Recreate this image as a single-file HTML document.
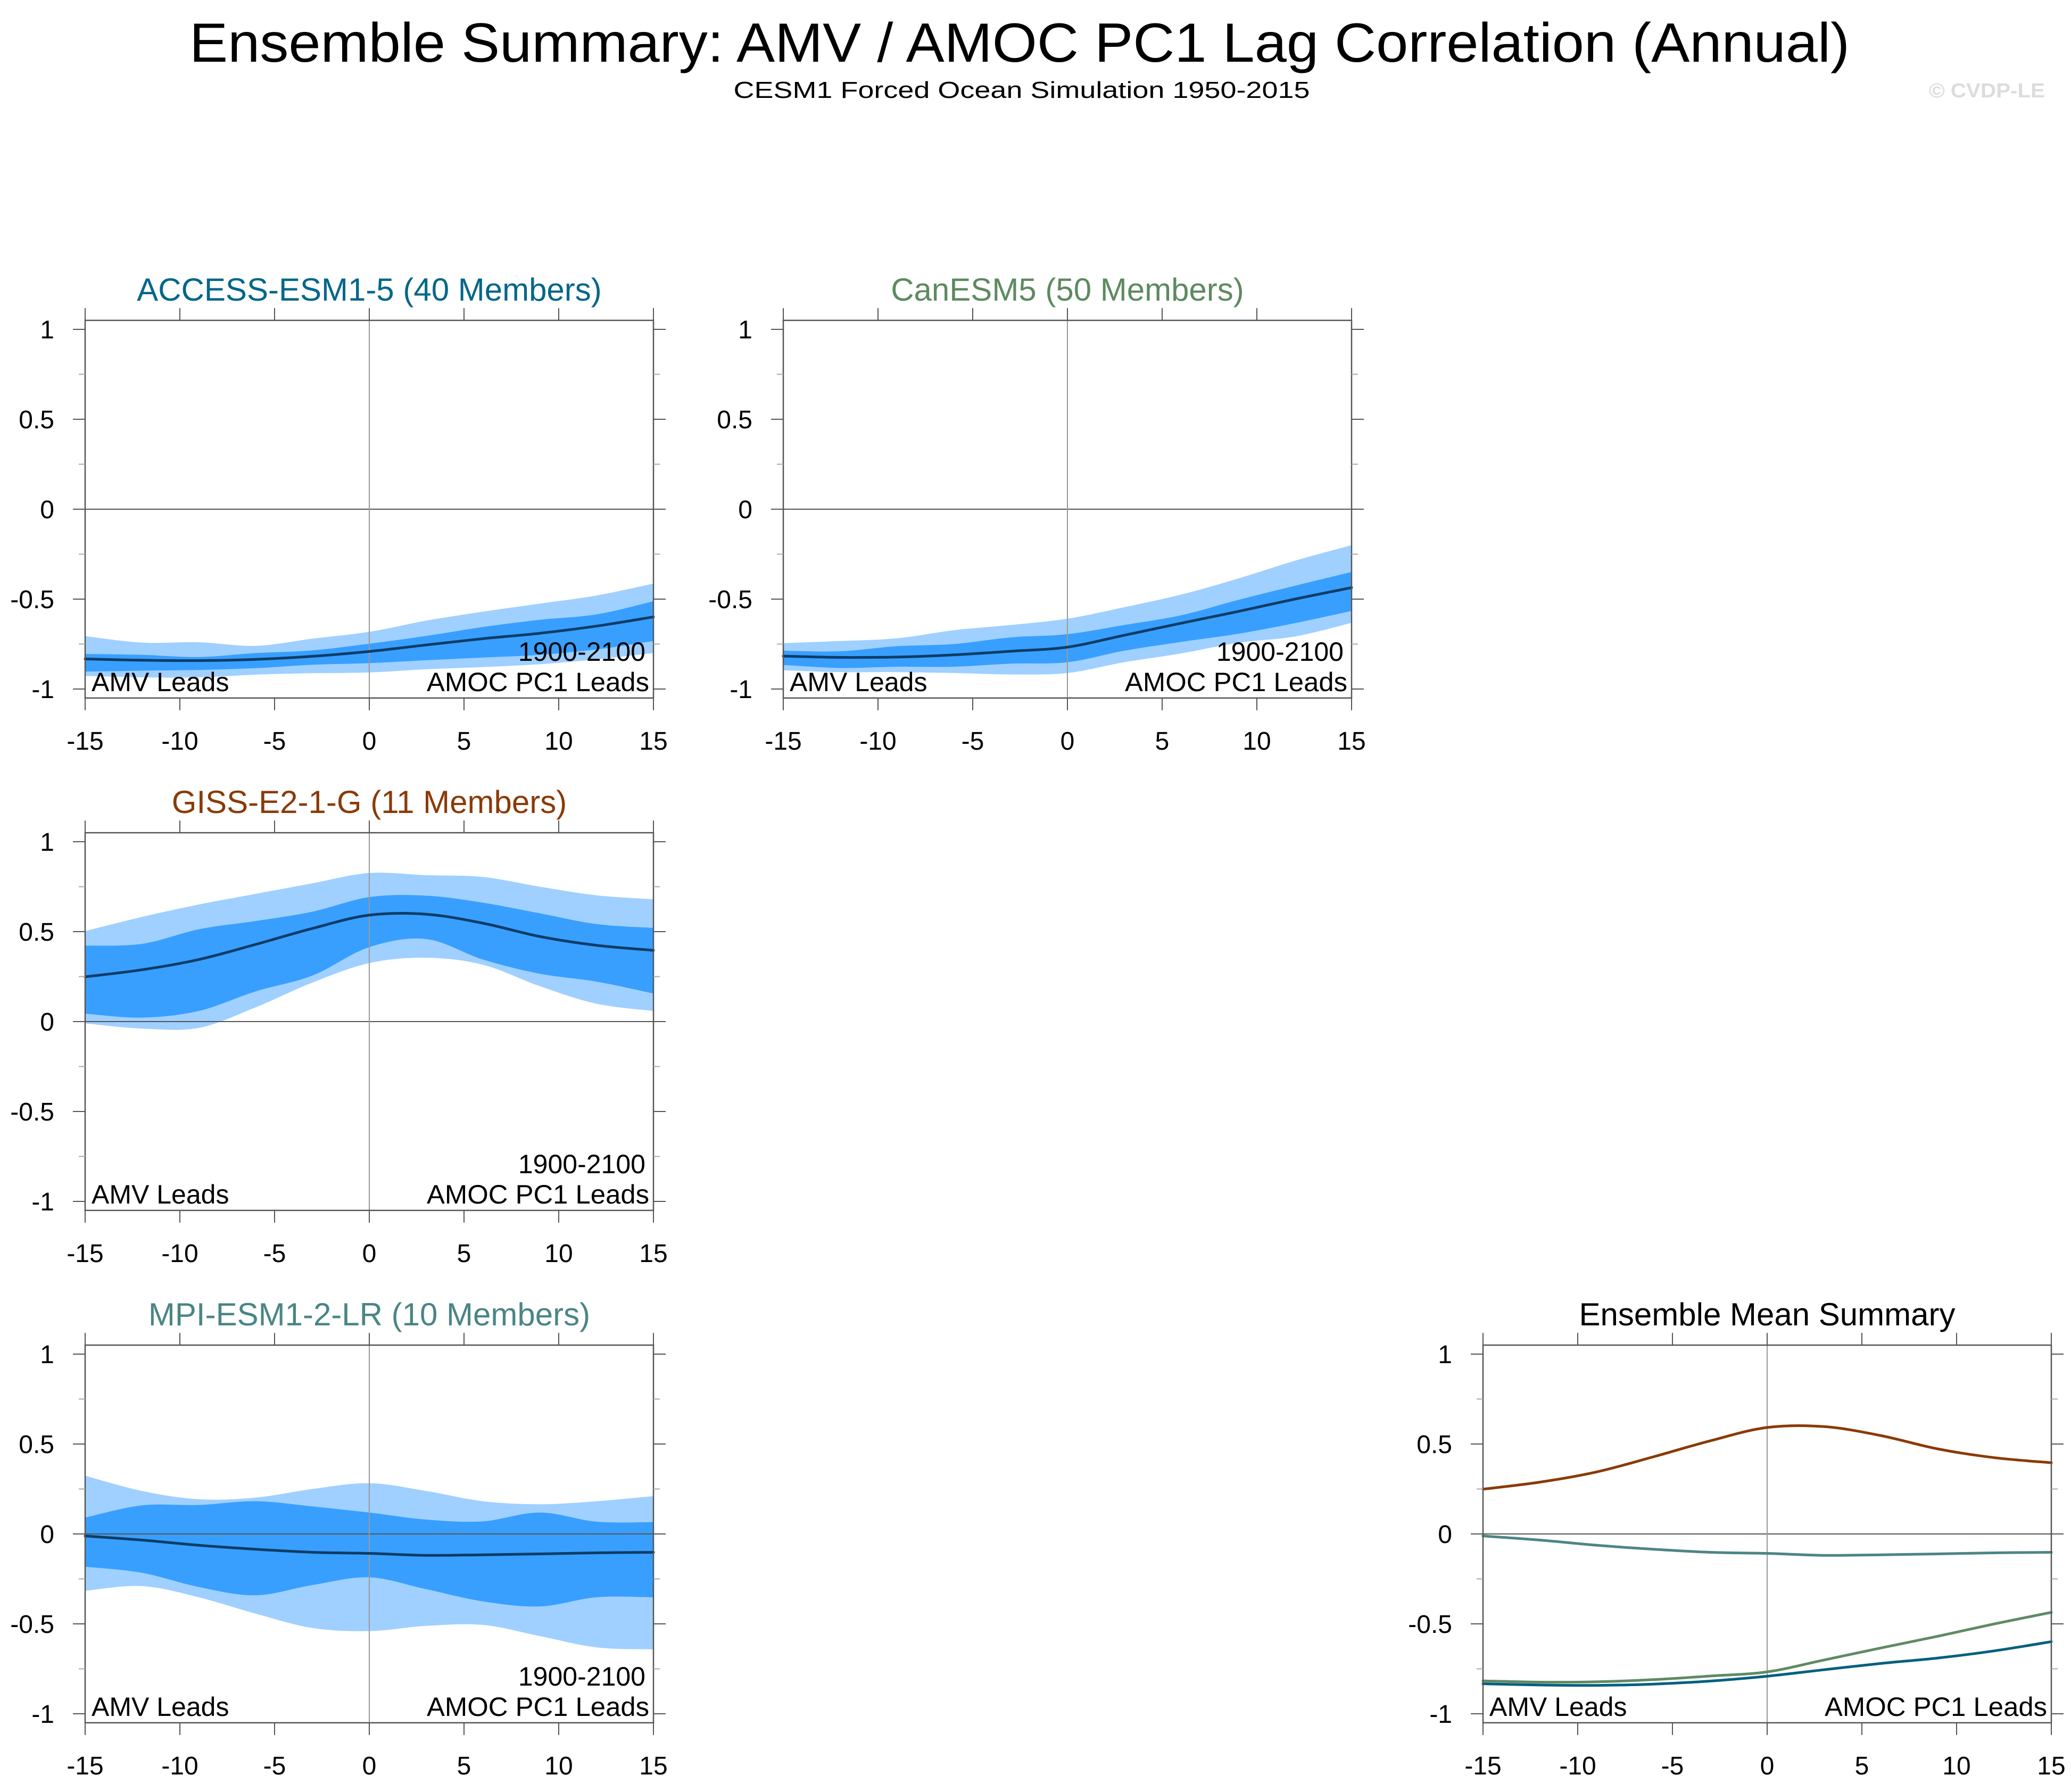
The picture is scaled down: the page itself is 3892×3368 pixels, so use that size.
<!DOCTYPE html>
<html><head><meta charset="utf-8"><style>
html,body{margin:0;padding:0;background:#fff;}
svg{display:block;font-family:"Liberation Sans",Arial,sans-serif;}
</style></head><body>
<svg id="fig" width="3892" height="3368" viewBox="0 0 3892 3368" xmlns="http://www.w3.org/2000/svg">
<rect width="3892" height="3368" fill="#fff"/>
<text x="1916" y="116" font-size="104" text-anchor="middle" textLength="3120" lengthAdjust="spacingAndGlyphs">Ensemble Summary: AMV / AMOC PC1 Lag Correlation (Annual)</text>
<text x="1920" y="184" font-size="44" text-anchor="middle" textLength="1083" lengthAdjust="spacingAndGlyphs">CESM1 Forced Ocean Simulation 1950-2015</text>
<text x="3843" y="183" font-size="38" font-weight="bold" fill="#dcdcdc" text-anchor="end" textLength="218" lengthAdjust="spacingAndGlyphs">© CVDP-LE</text>
</svg>
<script>
const lags = [-15,-12,-9,-6,-3,0,3,6,9,12,15];
const xTicks = [-15,-10,-5,0,5,10,15];
const xTickLabels = ["-15","-10","-5","0","5","10","15"];
const yTicks = [-1,-0.5,0,0.5,1];
const yTickLabels = ["-1","-0.5","0","0.5","1"];
const yMinor = [-0.75,-0.25,0.25,0.75];

const accessMean   = [-0.833,-0.84,-0.842,-0.835,-0.818,-0.791,-0.755,-0.72,-0.69,-0.65,-0.599];
const accessOutHi  = [-0.706,-0.742,-0.74,-0.76,-0.72,-0.682,-0.62,-0.57,-0.525,-0.48,-0.414];
const accessInHi   = [-0.805,-0.81,-0.822,-0.80,-0.785,-0.748,-0.705,-0.655,-0.615,-0.585,-0.512];
const accessInLo   = [-0.903,-0.898,-0.894,-0.884,-0.865,-0.856,-0.84,-0.825,-0.81,-0.78,-0.733];
const accessOutLo  = [-0.927,-0.935,-0.935,-0.92,-0.912,-0.908,-0.89,-0.878,-0.862,-0.835,-0.80];

const canMean  = [-0.817,-0.824,-0.822,-0.81,-0.79,-0.767,-0.701,-0.634,-0.569,-0.5,-0.436];
const canOutHi = [-0.745,-0.733,-0.718,-0.673,-0.644,-0.609,-0.545,-0.475,-0.386,-0.287,-0.2];
const canInHi  = [-0.787,-0.79,-0.762,-0.75,-0.713,-0.695,-0.644,-0.59,-0.505,-0.426,-0.349];
const canInLo  = [-0.866,-0.883,-0.876,-0.876,-0.859,-0.851,-0.787,-0.738,-0.693,-0.634,-0.566];
const canOutLo = [-0.896,-0.906,-0.906,-0.911,-0.919,-0.911,-0.851,-0.802,-0.743,-0.708,-0.632];

const gissMean  = [0.249,0.288,0.345,0.429,0.518,0.592,0.597,0.547,0.473,0.424,0.396];
const gissOutHi = [0.503,0.582,0.651,0.71,0.769,0.826,0.814,0.804,0.75,0.702,0.68];
const gissInHi  = [0.422,0.432,0.513,0.559,0.611,0.692,0.70,0.661,0.602,0.542,0.521];
const gissInLo  = [0.044,0.022,0.059,0.168,0.256,0.414,0.459,0.345,0.266,0.222,0.156];
const gissOutLo = [-0.01,-0.039,-0.035,0.079,0.217,0.325,0.355,0.316,0.197,0.099,0.059];

const mpiMean  = [-0.011,-0.034,-0.063,-0.085,-0.102,-0.108,-0.119,-0.116,-0.111,-0.105,-0.102];
const mpiOutHi = [0.324,0.239,0.193,0.202,0.25,0.282,0.239,0.182,0.165,0.182,0.21];
const mpiInHi  = [0.091,0.159,0.161,0.182,0.153,0.119,0.08,0.07,0.119,0.068,0.066];
const mpiInLo  = [-0.182,-0.216,-0.295,-0.341,-0.284,-0.241,-0.307,-0.375,-0.403,-0.352,-0.352];
const mpiOutLo = [-0.316,-0.29,-0.352,-0.443,-0.523,-0.54,-0.511,-0.506,-0.568,-0.631,-0.642];

const NS = "http://www.w3.org/2000/svg";
const svg = document.getElementById('fig');
function mk(tag, attrs, parent){
  const e = document.createElementNS(NS, tag);
  for (const k in attrs) e.setAttribute(k, attrs[k]);
  (parent||svg).appendChild(e);
  return e;
}
// smooth path through points (Catmull-Rom -> Bezier), continuing existing path if cont
function smooth(pts, cont){
  let d = (cont ? 'L' : 'M') + pts[0][0] + ' ' + pts[0][1];
  for (let i = 0; i < pts.length-1; i++){
    const p0 = pts[Math.max(0,i-1)], p1 = pts[i], p2 = pts[i+1], p3 = pts[Math.min(pts.length-1,i+2)];
    const c1x = p1[0] + (p2[0]-p0[0])/6, c1y = p1[1] + (p2[1]-p0[1])/6;
    const c2x = p2[0] - (p3[0]-p1[0])/6, c2y = p2[1] - (p3[1]-p1[1])/6;
    d += 'C' + c1x + ' ' + c1y + ' ' + c2x + ' ' + c2y + ' ' + p2[0] + ' ' + p2[1];
  }
  return d;
}

function panel(cfg){
  const L = cfg.left, R = cfg.left + 1068;
  const y0 = 957 + 963*cfg.row, py = 338;
  const xs = v => L + (v + 15) / 30 * (R - L);
  const ys = v => y0 - v * py;
  const top = ys(1.05), bot = ys(-1.05);
  const g = mk('g', {});
  
  
  const t = mk('text', {x:(L+R)/2, y:y0-392, 'font-size':60, 'text-anchor':'middle', fill:cfg.titleColor}, g);
  t.textContent = cfg.title;
  
  
  function band(hi, lo, color, nm){
    const up = lags.map((l,i)=>[xs(l), ys(hi[i])]);
    const dn = lags.map((l,i)=>[xs(l), ys(lo[i])]).reverse();
    const d = smooth(up,false) + smooth(dn,true) + 'Z';
    const p = mk('path', {d: d, fill: color}, g);
    
    
  }
  if (cfg.outHi) band(cfg.outHi, cfg.outLo, '#9fd0ff', 'outer-spread-band');
  if (cfg.inHi) band(cfg.inHi, cfg.inLo, '#389fff', 'inner-spread-band');
  const hz = mk('line', {x1:L-23, x2:R+23, y1:ys(0), y2:ys(0), stroke:'#555', 'stroke-width':2}, g);
  
  
  const vz = mk('line', {x1:xs(0), x2:xs(0), y1:top, y2:bot, stroke:'#999', 'stroke-width':2}, g);
  
  
  cfg.lines.forEach(s=>{
    const pts = lags.map((l,i)=>[xs(l), ys(s.v[i])]);
    const p = mk('path', {d:smooth(pts,false), fill:'none', stroke:s.c, 'stroke-width':5, 'stroke-linejoin':'round', 'stroke-linecap':'round'}, g);
    
    
  });
  const fr = mk('rect', {x:L, y:top, width:R-L, height:bot-top, fill:'none', stroke:'#555', 'stroke-width':2.5}, g);
  
  
  xTicks.forEach((v,i)=>{
    const x = xs(v);
    mk('line', {x1:x, x2:x, y1:top, y2:top-23, stroke:'#555', 'stroke-width':2}, g);
    mk('line', {x1:x, x2:x, y1:bot, y2:bot+23, stroke:'#555', 'stroke-width':2}, g);
    const tl = mk('text', {x:x, y:bot+97, 'font-size':48, 'text-anchor':'middle'}, g);
    tl.textContent = xTickLabels[i];
    
    
  });
  yTicks.forEach((v,i)=>{
    const y = ys(v);
    mk('line', {x1:L, x2:L-23, y1:y, y2:y, stroke:'#555', 'stroke-width':2}, g);
    mk('line', {x1:R, x2:R+23, y1:y, y2:y, stroke:'#555', 'stroke-width':2}, g);
    const tl = mk('text', {x:L-58, y:y+17, 'font-size':48, 'text-anchor':'end'}, g);
    tl.textContent = yTickLabels[i];
    
    
  });
  yMinor.forEach(v=>{
    const y = ys(v);
    mk('line', {x1:L, x2:L-12, y1:y, y2:y, stroke:'#aaa', 'stroke-width':2}, g);
    mk('line', {x1:R, x2:R+12, y1:y, y2:y, stroke:'#aaa', 'stroke-width':2}, g);
  });
  const a1 = mk('text', {x:L+12, y:y0+342, 'font-size':50}, g);
  a1.textContent = 'AMV Leads';
  
  
  const a2 = mk('text', {x:R-8, y:y0+342, 'font-size':50, 'text-anchor':'end', textLength:418, lengthAdjust:'spacingAndGlyphs'}, g);
  a2.textContent = 'AMOC PC1 Leads';
  
  
  if (cfg.period){
    const a3 = mk('text', {x:R-15, y:y0+285, 'font-size':50, 'text-anchor':'end'}, g);
    a3.textContent = '1900-2100';
    
    
  }
}

panel({name:'access-esm1-5', title:'ACCESS-ESM1-5 (40 Members)', titleColor:'#00668a', left:160, row:0, period:true,
  outHi:accessOutHi, outLo:accessOutLo, inHi:accessInHi, inLo:accessInLo,
  lines:[{v:accessMean, c:'#0d3c66', n:'ensemble-mean-line'}]});
panel({name:'canesm5', title:'CanESM5 (50 Members)', titleColor:'#5d8a60', left:1472, row:0, period:true,
  outHi:canOutHi, outLo:canOutLo, inHi:canInHi, inLo:canInLo,
  lines:[{v:canMean, c:'#0d3c66', n:'ensemble-mean-line'}]});
panel({name:'giss-e2-1-g', title:'GISS-E2-1-G (11 Members)', titleColor:'#8a3a08', left:160, row:1, period:true,
  outHi:gissOutHi, outLo:gissOutLo, inHi:gissInHi, inLo:gissInLo,
  lines:[{v:gissMean, c:'#0d3c66', n:'ensemble-mean-line'}]});
panel({name:'mpi-esm1-2-lr', title:'MPI-ESM1-2-LR (10 Members)', titleColor:'#4a8585', left:160, row:2, period:true,
  outHi:mpiOutHi, outLo:mpiOutLo, inHi:mpiInHi, inLo:mpiInLo,
  lines:[{v:mpiMean, c:'#0d3c66', n:'ensemble-mean-line'}]});
panel({name:'ensemble-mean-summary', title:'Ensemble Mean Summary', titleColor:'#000', left:2787, row:2, period:false,
  lines:[{v:gissMean, c:'#8a3a05', n:'giss-mean-line'},
         {v:mpiMean, c:'#4d8585', n:'mpi-mean-line'},
         {v:canMean, c:'#5f8a63', n:'canesm5-mean-line'},
         {v:accessMean, c:'#00607f', n:'access-mean-line'}]});
</script>
</body></html>
